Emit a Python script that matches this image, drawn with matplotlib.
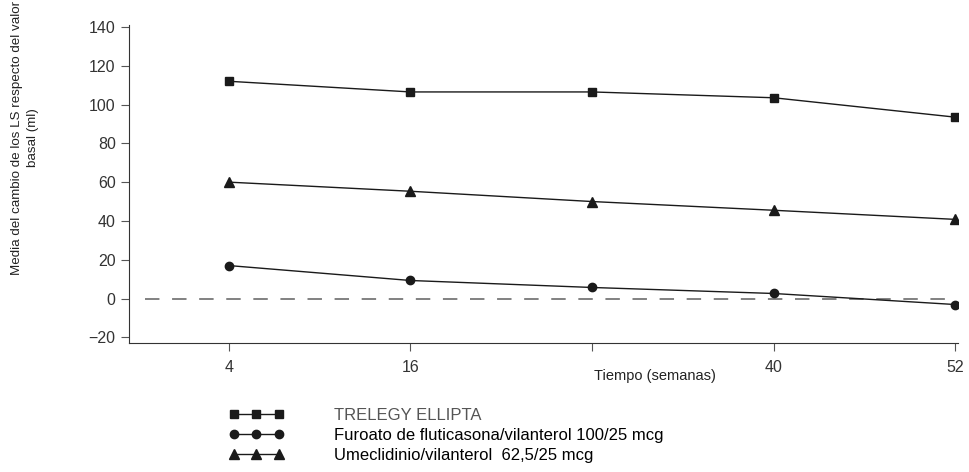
import matplotlib
matplotlib.use('Agg')
import matplotlib.pyplot as plt

plt.rcParams['font.family'] = ['Liberation Sans', 'DejaVu Sans']

weeks = [4, 16, 28, 40, 52]
tick_labels = ['4', '16', '', '40', '52']
trelegy = [112, 106.5, 106.5, 103.5, 93.5]
furoato = [17, 9.3, 5.7, 2.6, -3.1]
umec = [60, 55.3, 50, 45.5, 40.8]

names = ['TRELEGY ELLIPTA',
         'Furoato de fluticasona/vilanterol 100/25 mcg',
         'Umeclidinio/vilanterol  62,5/25 mcg']

fig = plt.figure(figsize=(9.69, 4.72), dpi=100)
ax = fig.add_axes([0.133, 0.273, 0.856, 0.674])

ax.axhline(0, xmin=0.02, xmax=0.995, color='#777777', lw=1.3, dashes=(8, 7))
l1, = ax.plot(weeks, trelegy, color='#1a1a1a', lw=1, marker='s', ms=6)
l2, = ax.plot(weeks, furoato, color='#1a1a1a', lw=1, marker='o', ms=6)
l3, = ax.plot(weeks, umec, color='#1a1a1a', lw=1, marker='^', ms=7.5)

ax.set_xlim(-2.6, 52.2)
ax.set_ylim(-23, 141)
ax.set_xticks(weeks)
ax.set_xticklabels(tick_labels)
ax.set_yticks(range(-20, 141, 20))
for s in ['top', 'right']:
    ax.spines[s].set_visible(False)
for s in ['left', 'bottom']:
    ax.spines[s].set_color('#333333')
ax.tick_params(colors='#555555', labelsize=11.5, length=6, labelcolor='#333333')
ax.tick_params(axis='x', pad=6)

fig.text(0.676, 0.203, 'Tiempo (semanas)', ha='center', va='center', fontsize=10.5, color='#222222')
fig.text(0.026, 0.708, 'Media del cambio de los LS respecto del valor\nbasal (ml)',
         rotation=90, ha='center', va='center', fontsize=9.6, color='#222222',
         linespacing=1.45)

leg = fig.legend([l1, l2, l3], names, loc='upper left', bbox_to_anchor=(0.236, 0.135),
                 frameon=False, fontsize=12, numpoints=3, handlelength=3.3,
                 handletextpad=3.0, labelspacing=0.28, borderpad=0, borderaxespad=0)
leg.get_texts()[0].set_color('#555555')

fig.savefig('out.png', dpi=100)
